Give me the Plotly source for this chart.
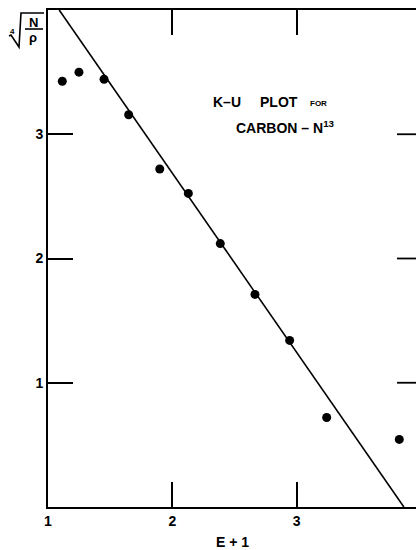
import plotly.graph_objects as go

# Data
e_plus_1 = [1.115, 1.249, 1.451, 1.649, 1.899, 2.129, 2.386, 2.665, 2.944, 3.242, 3.826]
root_n_over_rho = [3.427, 3.500, 3.443, 3.157, 2.720, 2.524, 2.120, 1.711, 1.341, 0.720, 0.544]

# Fitted Kurie line end points
fit_x = [1.09, 3.863]
fit_y = [4.0, 0.0]

x_ticks = [1, 2, 3]
x_tick_labels = ["1", "2", "3"]
y_ticks = [1, 2, 3]
y_tick_labels = ["1", "2", "3"]

W, H = 416, 550
L, R, T, B = 48, 0, 10, 43
PW, PH = W - L - R, H - T - B


def px(x):
    return (x - L) / PW


def py(y):
    return (H - B - y) / PH


FONT = "Liberation Sans"

fig = go.Figure()
fig.add_trace(go.Scatter(x=fit_x, y=fit_y, mode="lines",
                         line=dict(color="black", width=1.6), hoverinfo="skip"))
fig.add_trace(go.Scatter(x=e_plus_1, y=root_n_over_rho, mode="markers",
                         marker=dict(color="black", size=9)))

shapes = []
# right-hand ticks (frame edge cut by the image)
for v in y_ticks:
    shapes.append(dict(type="line", xref="paper", yref="y", x0=px(397), x1=1.0,
                       y0=v, y1=v, line=dict(color="black", width=1.8)))
# radical sign and fraction bar of the y label
shapes.append(dict(type="path", xref="paper", yref="paper",
                   path=f"M {px(9)},{py(36)} L {px(11)},{py(35)} L {px(19)},{py(47)} "
                        f"L {px(21)},{py(13)} L {px(44)},{py(13)}",
                   line=dict(color="black", width=1.6)))
shapes.append(dict(type="line", xref="paper", yref="paper", x0=px(25), x1=px(43),
                   y0=py(29), y1=py(29), line=dict(color="black", width=1.6)))

ann = []
def text(t, x, y, size, xanchor="center", weight="bold"):
    ann.append(dict(text=t, x=px(x), y=py(y), xref="paper", yref="paper",
                    showarrow=False, xanchor=xanchor, yanchor="middle",
                    font=dict(family=FONT, size=size, color="black", weight=weight)))

text("4", 12, 31, 8)
text("N", 33, 22, 13)
text("ρ", 33, 37, 13)
text("K–U", 211, 102, 14, "left")
text("PLOT", 258, 102, 14, "left")
text("FOR", 308, 103, 8, "left")
text("CARBON – N<sup>13</sup>", 234, 127, 14, "left")
text("E + 1", 232, 542, 14)

fig.update_layout(
    width=W, height=H,
    margin=dict(l=L, r=R, t=T, b=B, pad=0),
    paper_bgcolor="white", plot_bgcolor="white",
    showlegend=False,
    shapes=shapes, annotations=ann,
    xaxis=dict(range=[1, 1 + PW / 124.3], tickvals=x_ticks, ticktext=x_tick_labels,
               ticks="inside", ticklen=25, tickwidth=1.6, tickcolor="black",
               showline=True, linewidth=2, linecolor="black", mirror="ticks",
               showgrid=False, zeroline=False,
               tickfont=dict(family=FONT, size=14, color="black", weight="bold")),
    yaxis=dict(range=[0, 4], tickvals=y_ticks, ticktext=y_tick_labels,
               ticks="inside", ticklen=25, tickwidth=1.6, tickcolor="black",
               showline=True, linewidth=2, linecolor="black", mirror=False,
               showgrid=False, zeroline=False,
               tickfont=dict(family=FONT, size=14, color="black", weight="bold")),
)

fig.write_html("out.html", config={"displayModeBar": False},
               post_script="document.body.style.margin='0';document.body.style.overflow='hidden';")
